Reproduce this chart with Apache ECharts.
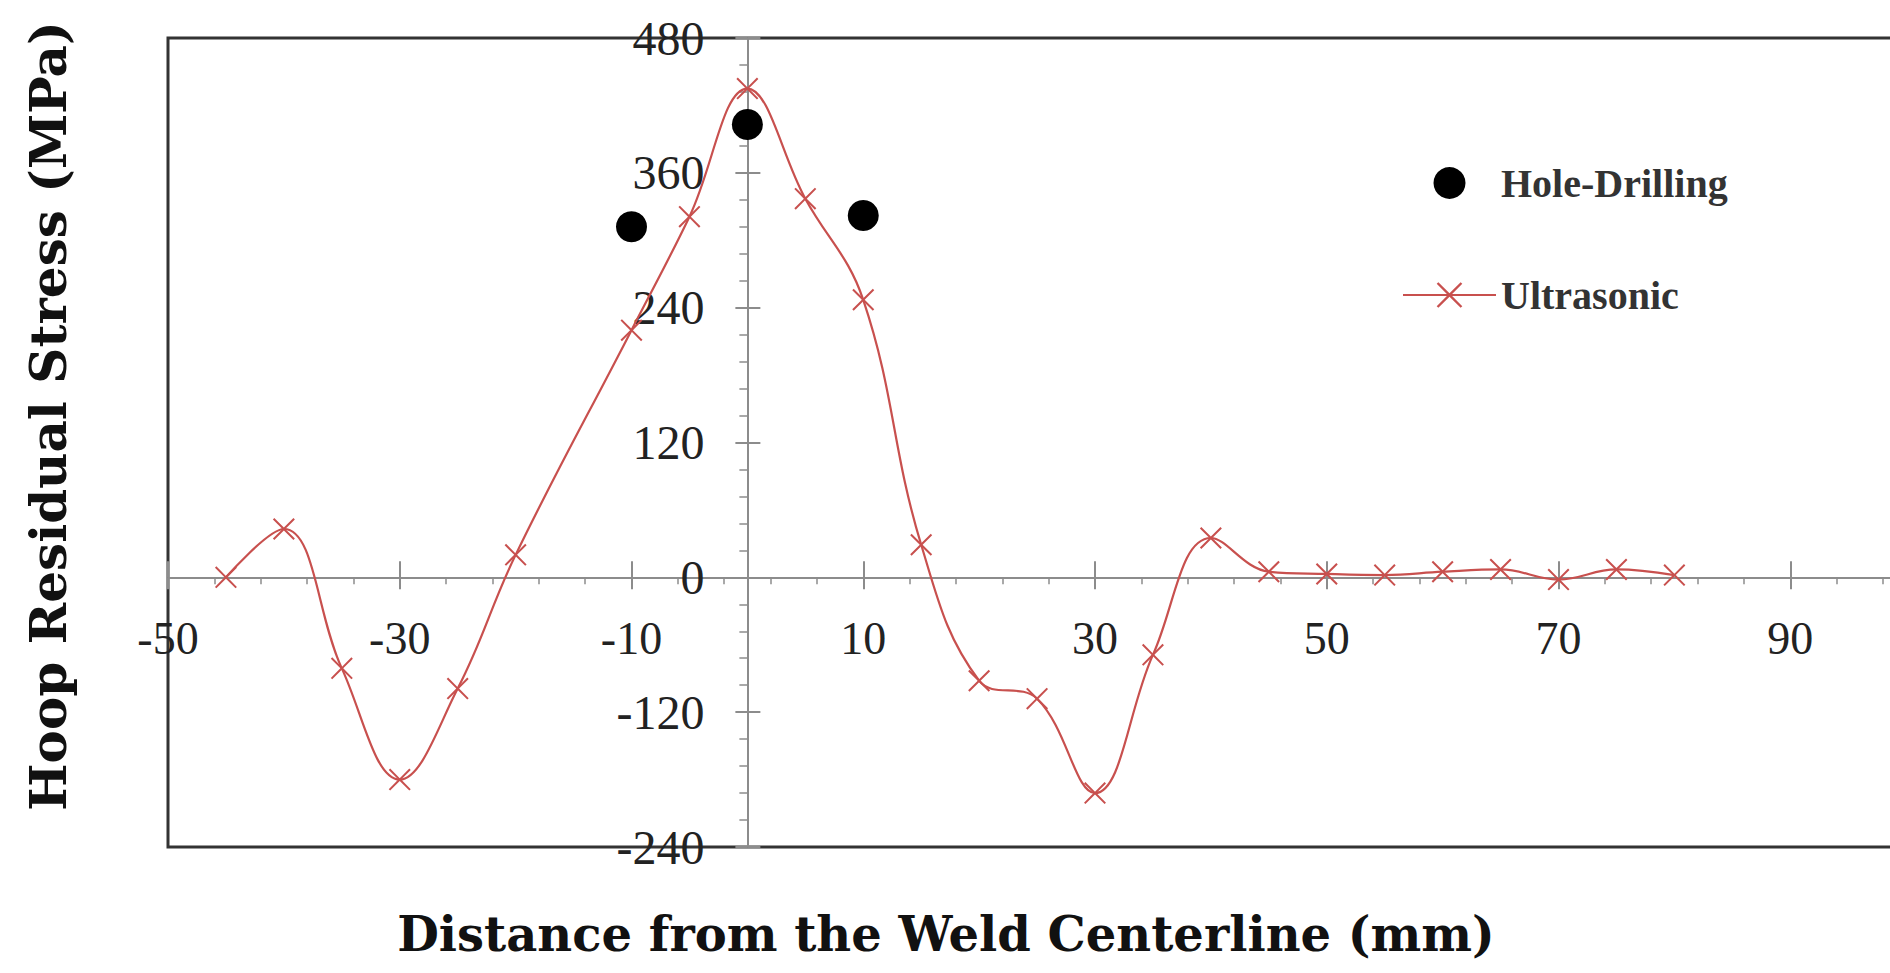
<!DOCTYPE html>
<html>
<head>
<meta charset="utf-8">
<title>Hoop Residual Stress</title>
<script src="https://cdn.jsdelivr.net/npm/echarts@6/dist/echarts.min.js"></script>
<style>
  html, body { margin: 0; padding: 0; background: #fff; }
  #chart { width: 1890px; height: 973px; }
</style>
</head>
<body>
<div id="chart"></div>
<script>
// distance from weld centerline (mm)
var ultraX = [-45, -40, -35, -30, -25, -20, -10, -5, 0, 5, 10, 15, 20, 25, 30, 35, 40, 45, 50, 55, 60, 65, 70, 75, 80];
// hoop residual stress, ultrasonic (MPa)
var ultraY = [0, 43, -81, -180, -99, 20, 220, 321, 435, 337, 247, 29, -92, -108, -192, -69, 35, 5, 3, 2, 5, 7, -2, 7, 2];
// hole-drilling measurements
var holeX = [-10, 0, 10];
var holeY = [312, 403, 322];

var seriesNames = ['Hole-Drilling', 'Ultrasonic'];
var xTitle = 'Distance from the Weld Centerline (mm)';
var yTitle = 'Hoop Residual Stress (MPa)';

// axis ranges (ticks every 20 mm from -50, every 120 MPa)
var xMin = -50, xMax = 110, xStep = 20;
var yMin = -240, yMax = 480, yStep = 120;

var gridLeft = 168, gridTop = 38, gridW = 1854, gridH = 809;
// axes cross at zero: shift them in from the plot edges
var xAxisOffset = -gridH * (0 - yMin) / (yMax - yMin);
var yAxisOffset = -gridW * (0 - xMin) / (xMax - xMin);

var red = '#c8504e';
var axisGray = '#8c8c8c';
var crossPath = 'path://M0,1.3L1.3,0L10,8.7L18.7,0L20,1.3L11.3,10L20,18.7L18.7,20L10,11.3L1.3,20L0,18.7L8.7,10Z';

var chart = echarts.init(document.getElementById('chart'), null, { renderer: 'svg' });

// second copy of each axis only draws the inner half of the crossing major ticks
function tickOnly(base, len) {
  return Object.assign({}, base, {
    axisLine: { show: false },
    axisLabel: { show: false },
    minorTick: { show: false },
    axisTick: { show: true, inside: true, length: len, lineStyle: { color: axisGray, width: 2 } }
  });
}

var xBase = {
  type: 'value',
  position: 'bottom',
  offset: xAxisOffset,
  min: xMin,
  max: xMax,
  interval: xStep,
  splitLine: { show: false }
};
var yBase = {
  type: 'value',
  position: 'left',
  offset: yAxisOffset,
  min: yMin,
  max: yMax,
  interval: yStep,
  splitLine: { show: false }
};

var option = {
  animation: false,
  backgroundColor: '#fff',
  grid: {
    left: gridLeft,
    top: gridTop,
    width: gridW,
    height: gridH,
    containLabel: false,
    outerBoundsMode: 'none',
    show: true,
    borderColor: '#333',
    borderWidth: 3,
    backgroundColor: 'transparent'
  },
  legend: {
    orient: 'vertical',
    left: 1397,
    top: 158,
    itemWidth: 93,
    itemHeight: 32,
    itemGap: 72,
    data: seriesNames,
    textStyle: {
      fontFamily: 'Liberation Serif',
      fontWeight: 'bold',
      fontSize: 40,
      color: '#333'
    }
  },
  xAxis: [
    Object.assign({}, xBase, {
      axisLine: { onZero: false, lineStyle: { color: axisGray, width: 2 } },
      axisTick: { show: true, length: 12, lineStyle: { color: axisGray, width: 2 } },
      minorTick: { show: true, splitNumber: 5, length: 7, lineStyle: { color: axisGray, width: 1.5 } },
      axisLabel: {
        margin: 38,
        showMinLabel: true,
        showMaxLabel: false,
        fontFamily: 'Liberation Serif',
        fontSize: 46,
        color: '#222'
      }
    }),
    tickOnly(xBase, 16)
  ],
  yAxis: [
    Object.assign({}, yBase, {
      axisLine: { onZero: false, lineStyle: { color: axisGray, width: 2 } },
      axisTick: { show: true, length: 12, lineStyle: { color: axisGray, width: 2 } },
      minorTick: { show: true, splitNumber: 5, length: 8, lineStyle: { color: axisGray, width: 1.5 } },
      axisLabel: {
        margin: 43,
        showMinLabel: true,
        showMaxLabel: true,
        fontFamily: 'Liberation Serif',
        fontSize: 48,
        color: '#222'
      }
    }),
    tickOnly(yBase, 13)
  ],
  graphic: [
    {
      type: 'text',
      x: 48,
      y: 416,
      rotation: Math.PI / 2,
      style: {
        text: yTitle,
        align: 'center',
        verticalAlign: 'middle',
        font: 'bold 50px "DejaVu Serif"',
        fill: '#111'
      }
    },
    {
      type: 'text',
      x: 946,
      y: 934,
      style: {
        text: xTitle,
        align: 'center',
        verticalAlign: 'middle',
        font: 'bold 48px "DejaVu Serif"',
        fill: '#111'
      }
    }
  ],
  series: [
    {
      name: seriesNames[0],
      type: 'scatter',
      symbol: 'circle',
      symbolSize: 31,
      itemStyle: { color: '#000', opacity: 1 },
      data: holeX.map(function (x, i) { return [x, holeY[i]]; }),
      z: 3
    },
    {
      name: seriesNames[1],
      type: 'line',
      smooth: 0.4,
      symbol: crossPath,
      symbolSize: 22,
      showAllSymbol: true,
      lineStyle: { color: red, width: 2.2 },
      itemStyle: { color: red },
      data: ultraX.map(function (x, i) { return [x, ultraY[i]]; }),
      z: 2
    }
  ]
};

chart.setOption(option);
window.addEventListener('resize', function () {
  chart.resize();
});
</script>
</body>
</html>
